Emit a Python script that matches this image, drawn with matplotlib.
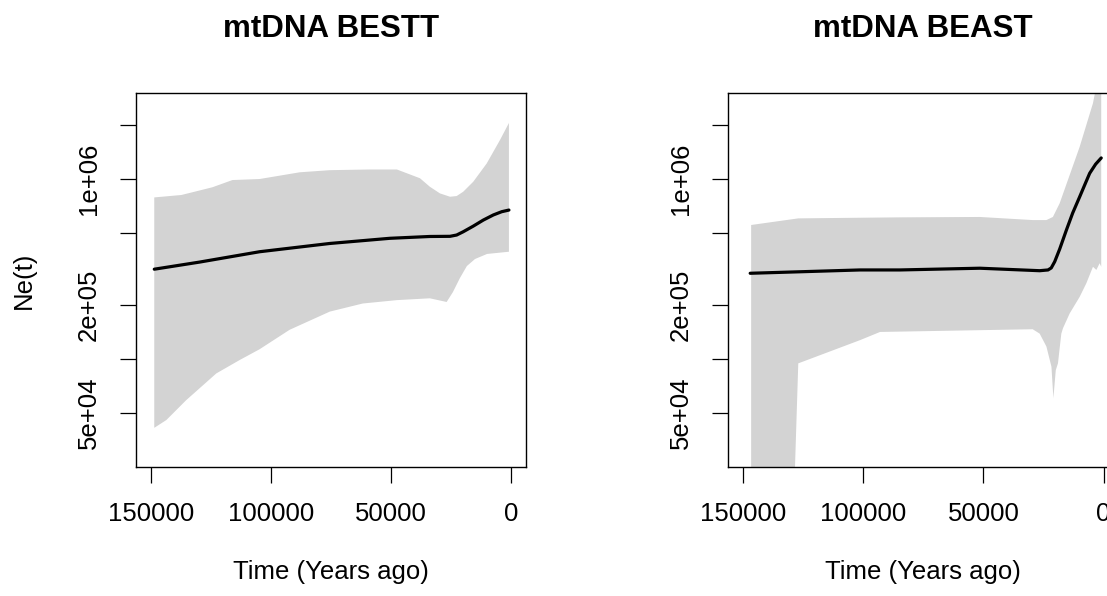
import numpy as np
import matplotlib
matplotlib.use("Agg")
import matplotlib.pyplot as plt
from matplotlib.ticker import FixedLocator, FixedFormatter, NullLocator

# ----------------------------------------------------------------------
# Données (temps en années, Ne(t))
# ----------------------------------------------------------------------

# mtDNA BESTT
bestt_time_med = [148500, 129700, 104700, 75500, 50500, 33900, 25500, 22750,
                  20000, 15830, 11670, 7500, 4000, 1000]
bestt_ne_med = [3.15e5, 3.45e5, 3.94e5, 4.38e5, 4.68e5, 4.79e5, 4.80e5, 4.88e5,
                5.09e5, 5.47e5, 5.91e5, 6.31e5, 6.58e5, 6.72e5]

bestt_time_up = [148500, 137200, 124300, 116000, 104700, 88000, 75500, 58900,
                 47600, 38000, 33900, 29700, 25500, 22750, 20000, 15830, 10250,
                 4700, 1000]
bestt_ne_up = [7.9e5, 8.15e5, 9.0e5, 9.87e5, 1.0e6, 1.09e6, 1.12e6, 1.13e6,
               1.13e6, 1.01e6, 9.06e5, 8.32e5, 7.97e5, 8.04e5, 8.5e5, 9.66e5,
               1.22e6, 1.65e6, 2.05e6]

bestt_time_low = [148500, 143500, 135200, 122700, 113000, 104700, 92200, 75500,
                  61800, 47600, 33900, 26900, 24300, 21400, 18500, 15100, 10100,
                  1000]
bestt_ne_low = [4.13e4, 4.56e4, 5.89e4, 8.29e4, 9.84e4, 1.13e5, 1.45e5, 1.83e5,
                2.03e5, 2.12e5, 2.17e5, 2.07e5, 2.35e5, 2.81e5, 3.28e5, 3.59e5,
                3.83e5, 3.94e5]

# mtDNA BEAST
beast_time_med = [147000, 101300, 84700, 51500, 26600, 23130, 21800, 20350,
                  18270, 15490, 12870, 9970, 7890, 5810, 3320, 1000]
beast_ne_med = [2.99e5, 3.12e5, 3.12e5, 3.19e5, 3.09e5, 3.12e5, 3.20e5, 3.47e5,
                4.08e5, 5.2e5, 6.47e5, 7.96e5, 9.26e5, 1.076e6, 1.21e6, 1.31e6]

beast_time_up = [146600, 127000, 101300, 84700, 51500, 29400, 23800, 21100,
                 18300, 9970, 4440, 3000, 1000]
beast_ne_up = [5.55e5, 6.04e5, 6.09e5, 6.12e5, 6.15e5, 5.91e5, 5.91e5, 6.15e5,
               7.32e5, 1.51e6, 2.64e6, 3.3e6, 4.0e6]

beast_time_low = [146600, 129300, 127000, 101300, 93000, 29500, 26600, 23800,
                  21700, 20900, 19900, 19000, 17600, 16900, 14100, 9970, 7200,
                  4440, 3030, 1660, 1000]
beast_ne_low = [1.0e4, 1.0e4, 9.43e4, 1.27e5, 1.41e5, 1.46e5, 1.38e5, 1.17e5,
                9.03e4, 6.04e4, 8.65e4, 9.43e4, 1.38e5, 1.48e5, 1.79e5, 2.21e5,
                2.63e5, 3.25e5, 3.12e5, 3.40e5, 3.25e5]

x_ticks = [150000, 100000, 50000, 0]
x_labels = ["150000", "100000", "50000", "0"]
y_ticks = [5e4, 1e5, 2e5, 5e5, 1e6, 2e6]
y_labels = ["5e+04", "", "2e+05", "", "1e+06", ""]

titres = ["mtDNA BESTT", "mtDNA BEAST"]

# ----------------------------------------------------------------------
# Mise en page (pixels)
# ----------------------------------------------------------------------

plt.rcParams["font.family"] = ["Liberation Sans", "DejaVu Sans"]

W, H = 1107, 596
fig = plt.figure(figsize=(W / 100, H / 100), dpi=100)


def trace_panneau(left_px, t_med, ne_med, t_up, ne_up, t_low, ne_low, titre, ylab):
    ax = fig.add_axes([left_px / W, (H - 467) / H, 390 / W, (467 - 93) / H])
    poly_t = np.concatenate([t_up, t_low[::-1]])
    poly_ne = np.concatenate([ne_up, ne_low[::-1]])
    ax.fill(poly_t, poly_ne, color="#d3d3d3", lw=0)
    ax.plot(t_med, ne_med, color="black", lw=2.3, solid_capstyle="round",
            solid_joinstyle="round")

    ax.set_yscale("log")
    ax.set_xlim(156100, -6100)
    ax.set_ylim(2.5e4, 3.01e6)

    ax.xaxis.set_major_locator(FixedLocator(x_ticks))
    ax.xaxis.set_major_formatter(FixedFormatter(x_labels))
    ax.yaxis.set_major_locator(FixedLocator(y_ticks))
    ax.yaxis.set_major_formatter(FixedFormatter(y_labels))
    ax.yaxis.set_minor_locator(NullLocator())

    ax.tick_params(axis="both", direction="out", length=11.5, width=0.9,
                   labelsize=18.5, colors="black")
    ax.tick_params(axis="x", pad=14)
    ax.tick_params(axis="y", pad=14)
    for lab in ax.get_yticklabels():
        lab.set_rotation(90)
        lab.set_va("center")

    for s in ax.spines.values():
        s.set_linewidth(1.0)

    ax.set_xlabel("Time (Years ago)", fontsize=18.5, labelpad=24)
    if ylab:
        ax.set_ylabel("Ne(t)", fontsize=18.5, labelpad=29)

    centre = left_px + 195
    fig.text(centre / W, 1 - 29 / H, titre, ha="center", va="center",
             fontsize=22.5, fontweight="bold")
    return ax


trace_panneau(136, np.array(bestt_time_med), np.array(bestt_ne_med),
              np.array(bestt_time_up), np.array(bestt_ne_up),
              np.array(bestt_time_low), np.array(bestt_ne_low), titres[0], True)
trace_panneau(728.3, np.array(beast_time_med), np.array(beast_ne_med),
              np.array(beast_time_up), np.array(beast_ne_up),
              np.array(beast_time_low), np.array(beast_ne_low), titres[1], False)

fig.savefig("out.png", dpi=100)
